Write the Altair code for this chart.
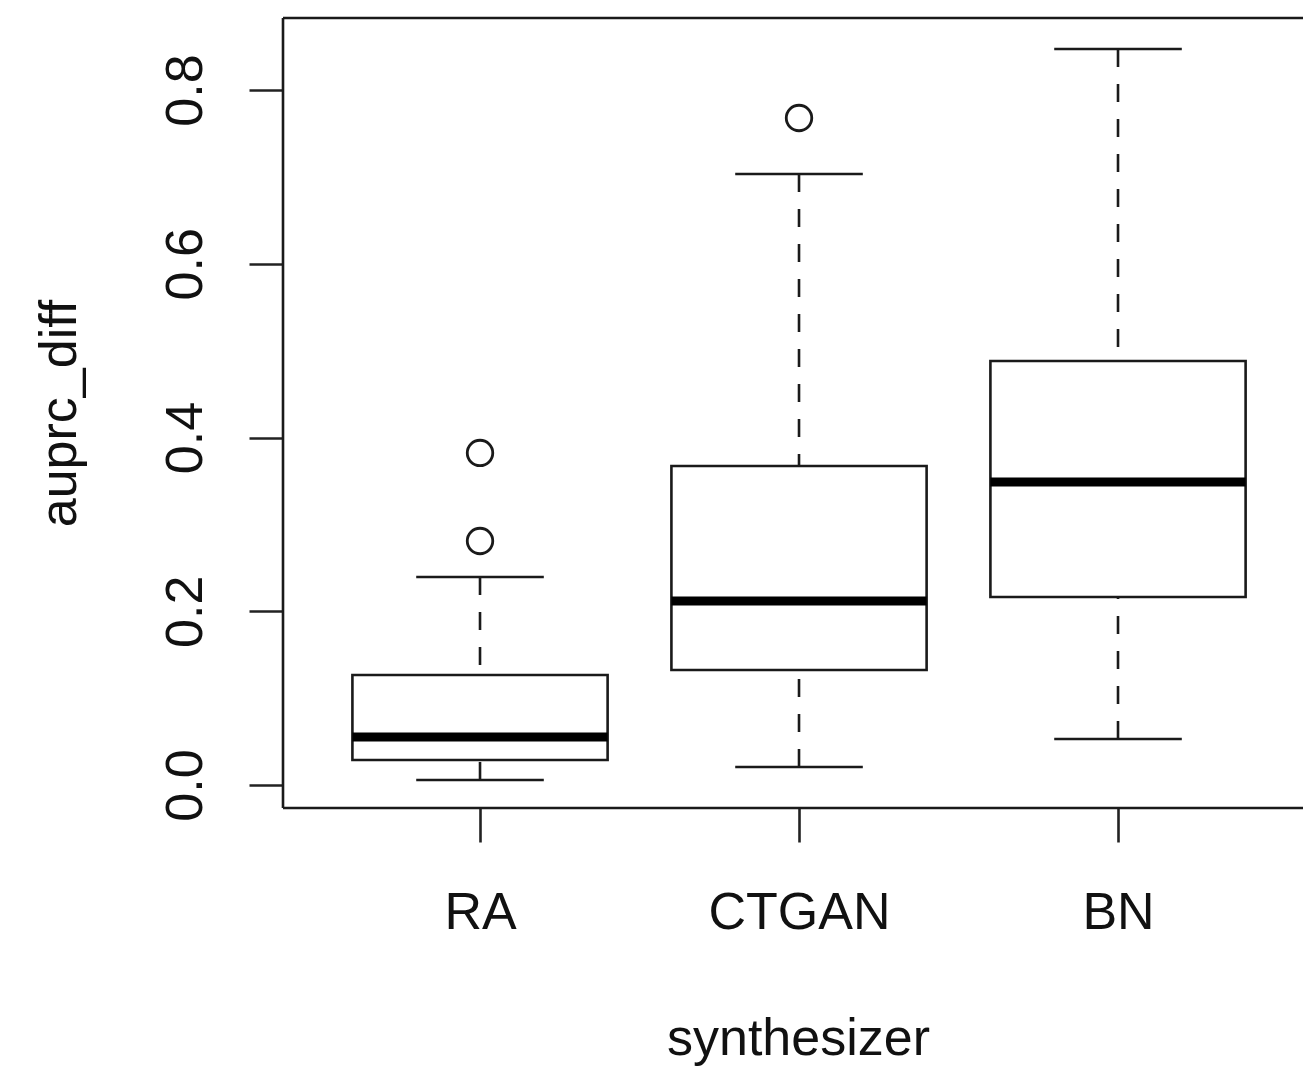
import altair as alt
import pandas as pd

# ---- data ----
categories = ["RA", "CTGAN", "BN"]
positions = [1, 2, 3]
whisker_low = [0.0058, 0.0207, 0.0530]
q1 = [0.0288, 0.1324, 0.2164]
median = [0.0553, 0.2118, 0.3488]
q3 = [0.1266, 0.3672, 0.4881]
whisker_high = [0.2394, 0.7033, 0.8472]
outlier_cat = ["RA", "RA", "CTGAN"]
outlier_val = [0.2809, 0.3822, 0.7678]

y_ticks = [0.0, 0.2, 0.4, 0.6, 0.8]

pos_of = dict(zip(categories, positions))
boxes = pd.DataFrame({
    "cat": categories, "pos": positions, "lo": whisker_low, "q1": q1,
    "med": median, "q3": q3, "hi": whisker_high,
})
outs = pd.DataFrame({"cat": outlier_cat, "val": outlier_val,
                     "pos": [pos_of[c] for c in outlier_cat]})

W, H = 1020, 790
FONT = "Liberation Sans"
XDOM = [0.3824, 3.5799]
YDOM = [-0.02647, 0.8829]
LW = 2.6

xs = alt.Scale(domain=XDOM, nice=False, zero=False)
ys = alt.Scale(domain=YDOM, nice=False, zero=False)

label_expr = "datum.value == 1 ? 'RA' : datum.value == 2 ? 'CTGAN' : datum.value == 3 ? 'BN' : ''"

base = alt.Chart(boxes).transform_calculate(
    bl="datum.pos - 0.4", br="datum.pos + 0.4",
    cl="datum.pos - 0.2", cr="datum.pos + 0.2",
)

x_axis = alt.Axis(values=positions, labelExpr=label_expr, domain=False, grid=False,
                  tickSize=34, tickWidth=LW, tickColor="#222", labelFontSize=52,
                  labelFont=FONT, labelColor="#111", labelPadding=86, labelLimit=0,
                  labelBaseline="alphabetic", title="synthesizer", titleFont=FONT,
                  titleFontSize=52, titleFontWeight="normal", titleColor="#111",
                  titleBaseline="alphabetic", titleY=246, titleX=515,
                  titleAnchor="middle", titleAlign="center")
y_axis = alt.Axis(values=y_ticks, format=".1f", domain=False, grid=False,
                  tickSize=34, tickWidth=LW, tickColor="#222", labelFontSize=52,
                  labelFont=FONT, labelColor="#111", labelAngle=270, labelLimit=0,
                  labelAlign="center", labelBaseline="alphabetic", labelPadding=48,
                  title="auprc_diff", titleFont=FONT, titleFontSize=52,
                  titleFontWeight="normal", titleColor="#111", titleAngle=270,
                  titleBaseline="alphabetic", titleX=-208, titleAlign="center")

# axes carrier (invisible)
axes = alt.Chart(boxes).mark_point(opacity=0).encode(
    x=alt.X("pos:Q", scale=xs, axis=x_axis),
    y=alt.Y("med:Q", scale=ys, axis=y_axis),
)

stroke = "#1a1a1a"

box = base.mark_rect(fill="white", stroke=stroke, strokeWidth=LW).encode(
    x=alt.X("bl:Q", scale=xs), x2="br:Q",
    y=alt.Y("q1:Q", scale=ys), y2="q3:Q",
)
med = base.mark_rule(color="black", strokeWidth=9).encode(
    x=alt.X("bl:Q", scale=xs), x2="br:Q",
    y=alt.Y("med:Q", scale=ys),
)
whisk_up = base.mark_rule(color=stroke, strokeWidth=LW, strokeDash=[18, 17]).encode(
    x=alt.X("pos:Q", scale=xs),
    y=alt.Y("hi:Q", scale=ys), y2="q3:Q",
)
whisk_dn = base.mark_rule(color=stroke, strokeWidth=LW, strokeDash=[18, 17]).encode(
    x=alt.X("pos:Q", scale=xs),
    y=alt.Y("lo:Q", scale=ys), y2="q1:Q",
)
cap_hi = base.mark_rule(color=stroke, strokeWidth=LW).encode(
    x=alt.X("cl:Q", scale=xs), x2="cr:Q",
    y=alt.Y("hi:Q", scale=ys),
)
cap_lo = base.mark_rule(color=stroke, strokeWidth=LW).encode(
    x=alt.X("cl:Q", scale=xs), x2="cr:Q",
    y=alt.Y("lo:Q", scale=ys),
)
points = alt.Chart(outs).mark_point(shape="circle", filled=False, color=stroke,
                                    strokeWidth=2.8, size=650, opacity=1).encode(
    x=alt.X("pos:Q", scale=xs),
    y=alt.Y("val:Q", scale=ys),
)

frame_src = alt.Chart(pd.DataFrame({"k": [0]}))
frame_top = frame_src.mark_rule(color=stroke, strokeWidth=LW).encode(
    x=alt.value(0), x2=alt.value(W), y=alt.value(0))
frame_bot = frame_src.mark_rule(color=stroke, strokeWidth=LW).encode(
    x=alt.value(0), x2=alt.value(W), y=alt.value(H))
frame_left = frame_src.mark_rule(color=stroke, strokeWidth=LW).encode(
    x=alt.value(0), y=alt.value(0), y2=alt.value(H))

chart = alt.layer(
    axes, whisk_up, whisk_dn, cap_hi, cap_lo, box, med, points,
    frame_top, frame_bot, frame_left,
).properties(
    width=W, height=H,
    autosize=alt.AutoSizeParams(type="none"),
    padding={"left": 283, "top": 18, "right": 0, "bottom": 264},
    background="white",
).configure_view(stroke=None)

chart.save("out.html", embed_options={"renderer": "svg", "actions": False})
